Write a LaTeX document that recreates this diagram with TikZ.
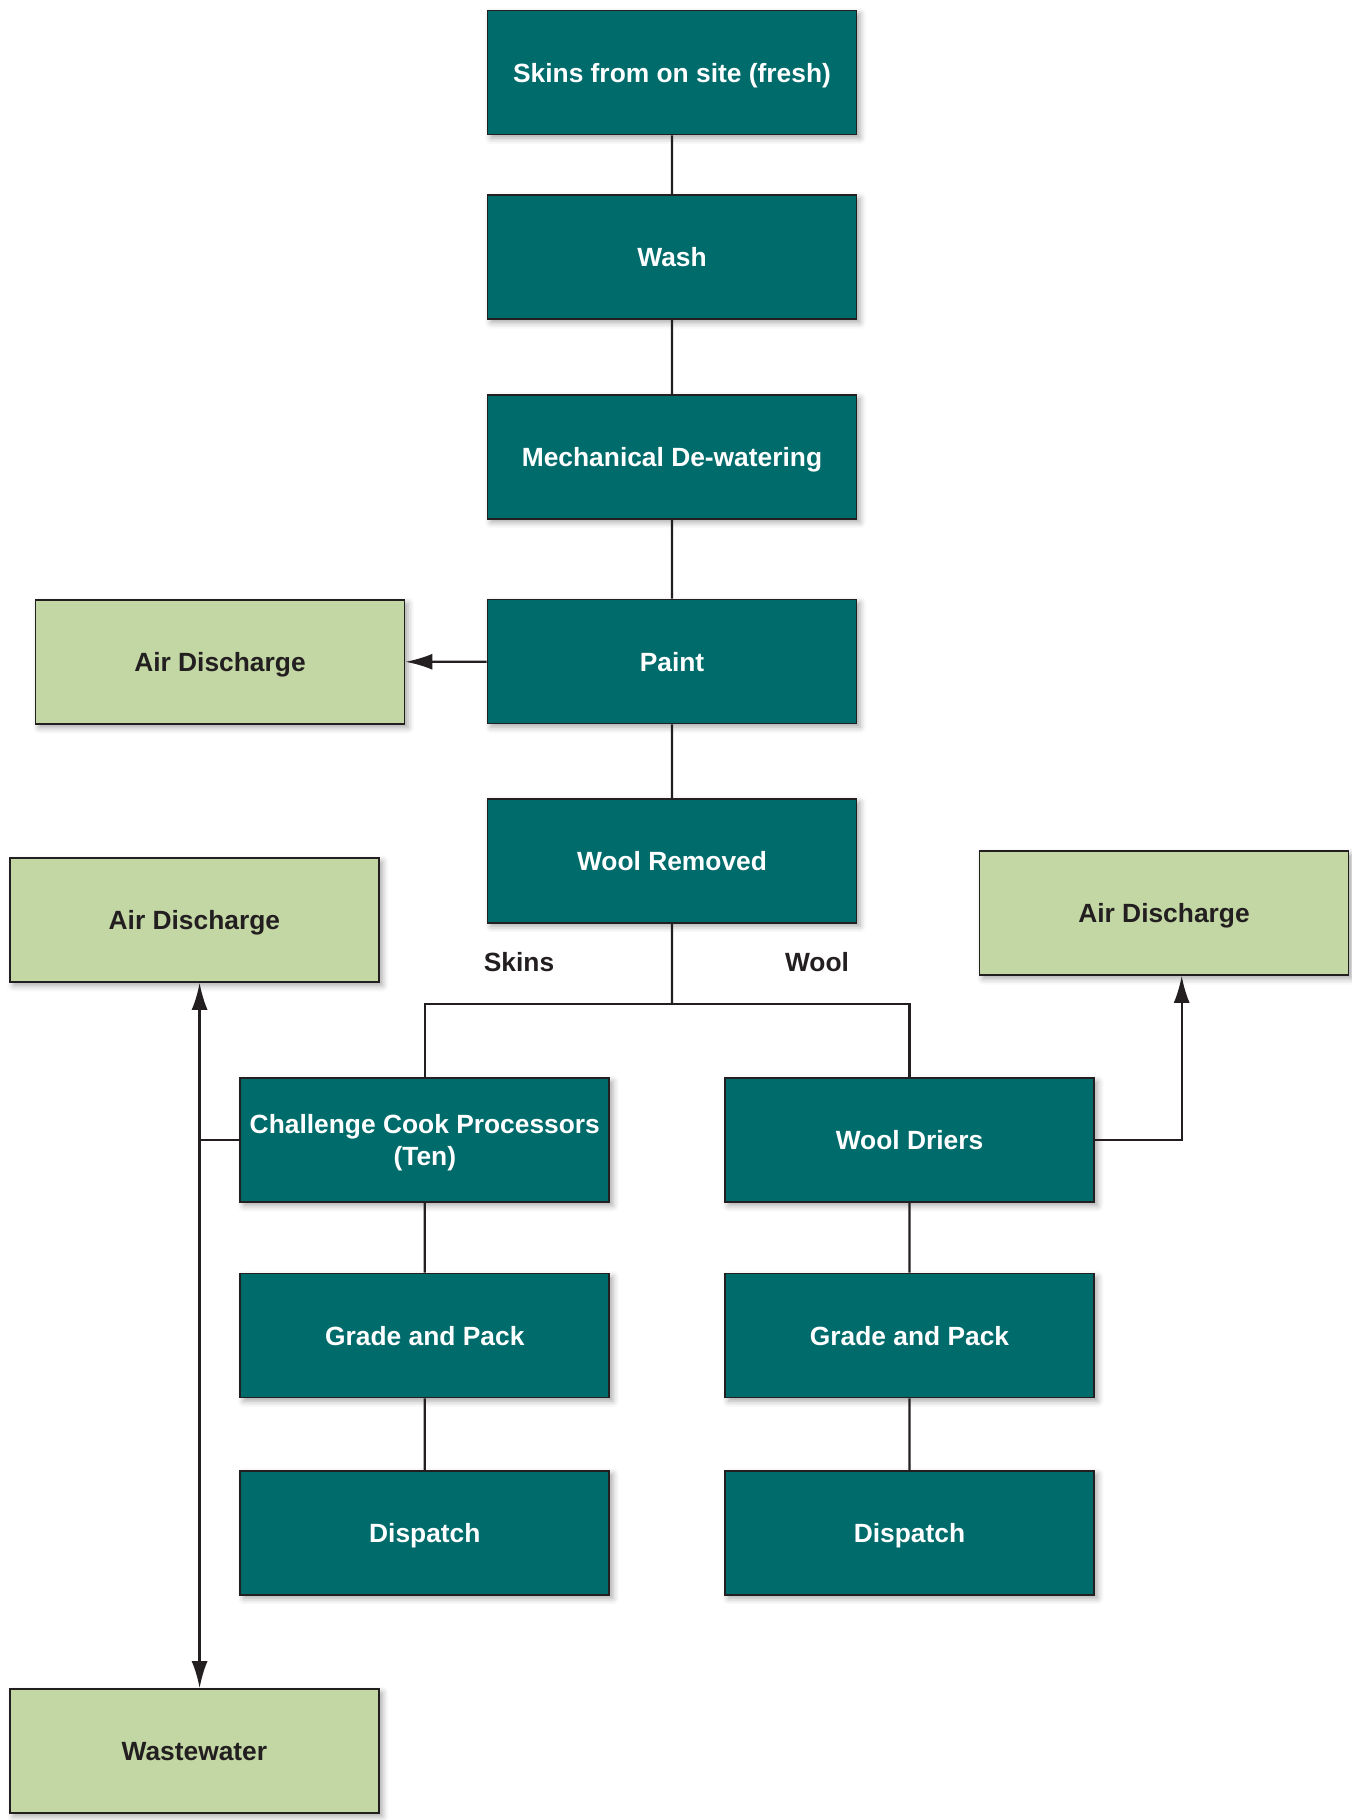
\documentclass[tikz,border=0pt]{standalone}
\usepackage{fontspec}
\setmainfont{Liberation Sans}
\usepackage{tikz}
\usetikzlibrary{arrows.meta,shadows.blur}
\definecolor{stepteal}{RGB}{0,107,107}
\definecolor{outgreen}{RGB}{195,215,164}
\definecolor{inkgray}{RGB}{35,31,32}

\begin{document}
\begin{tikzpicture}[scale=0.2]
\tikzstyle{every node}+=[font=\fontsize{15}{18.5}\selectfont\bfseries, align=center]
\tikzstyle{box}=[draw=inkgray, line width=1pt, minimum width=7.38cm, minimum height=2.48cm, inner sep=0pt, text depth=0pt,
  blur shadow={shadow xshift=0.07cm, shadow yshift=-0.07cm, shadow blur radius=0.12cm, shadow opacity=35}]
\tikzstyle{stage}=[box, fill=stepteal, text=white]
\tikzstyle{outlet}=[box, fill=outgreen, text=inkgray]
\tikzstyle{link}=[draw=inkgray, line width=1.3pt]
\tikzstyle{flow}=[link, -{Latex[length=0.54cm,width=0.32cm]}]
\useasboundingbox (0,0) rectangle (135.1,-182);
% main line
\node [stage] (skins) at (67.2,-7.25) {Skins from on site (fresh)};
\node [stage] (wash) at (67.2,-25.7) {Wash};
\node [stage] (dewater) at (67.2,-45.67) {Mechanical De-watering};
\node [stage] (paint) at (67.2,-66.15) {Paint};
\node [stage] (woolrem) at (67.2,-86.07) {Wool Removed};
% skins branch
\node [stage] (ccp) at (42.48,-114) {Challenge Cook Processors\\(Ten)};
\node [stage] (gradeL) at (42.48,-133.56) {Grade and Pack};
\node [stage] (dispL) at (42.48,-153.27) {Dispatch};
% wool branch
\node [stage] (driers) at (90.95,-114) {Wool Driers};
\node [stage] (gradeR) at (90.95,-133.56) {Grade and Pack};
\node [stage] (dispR) at (90.95,-153.27) {Dispatch};
% outlets
\node [outlet] (airA) at (22,-66.2) {Air Discharge};
\node [outlet] (airB) at (19.44,-92) {Air Discharge};
\node [outlet] (airC) at (116.4,-91.3) {Air Discharge};
\node [outlet] (waste) at (19.44,-175.1) {Wastewater};
% branch labels
\node [text=inkgray] (lblskins) at (51.9,-96.2) {Skins};
\node [text=inkgray] (lblwool) at (81.7,-96.2) {Wool};
\coordinate (split) at (67.2,-100.4);
\coordinate (leftrun) at (19.96,-114.2);
\coordinate (rightrun) at (118.17,-114.2);
\draw [link] (skins) -- (wash);
\draw [link] (wash) -- (dewater);
\draw [link] (dewater) -- (paint);
\draw [link] (paint) -- (woolrem);
\draw [flow] (paint) -- (airA);
\draw [link] (woolrem) -- (split);
\draw [link] (split) -| (ccp);
\draw [link] (split) -| (driers);
\draw [link] (ccp) -- (gradeL);
\draw [link] (gradeL) -- (dispL);
\draw [link] (driers) -- (gradeR);
\draw [link] (gradeR) -- (dispR);
\draw [flow, {Latex[length=0.54cm,width=0.32cm]}-{Latex[length=0.54cm,width=0.32cm]}] (airB.south -| leftrun) -- (waste.north -| leftrun);
\draw [link] (ccp.west) -- (ccp.west -| leftrun);
\draw [flow] (driers.east) -- (driers.east -| rightrun) -- (airC.south -| rightrun);
\end{tikzpicture}
\end{document}
